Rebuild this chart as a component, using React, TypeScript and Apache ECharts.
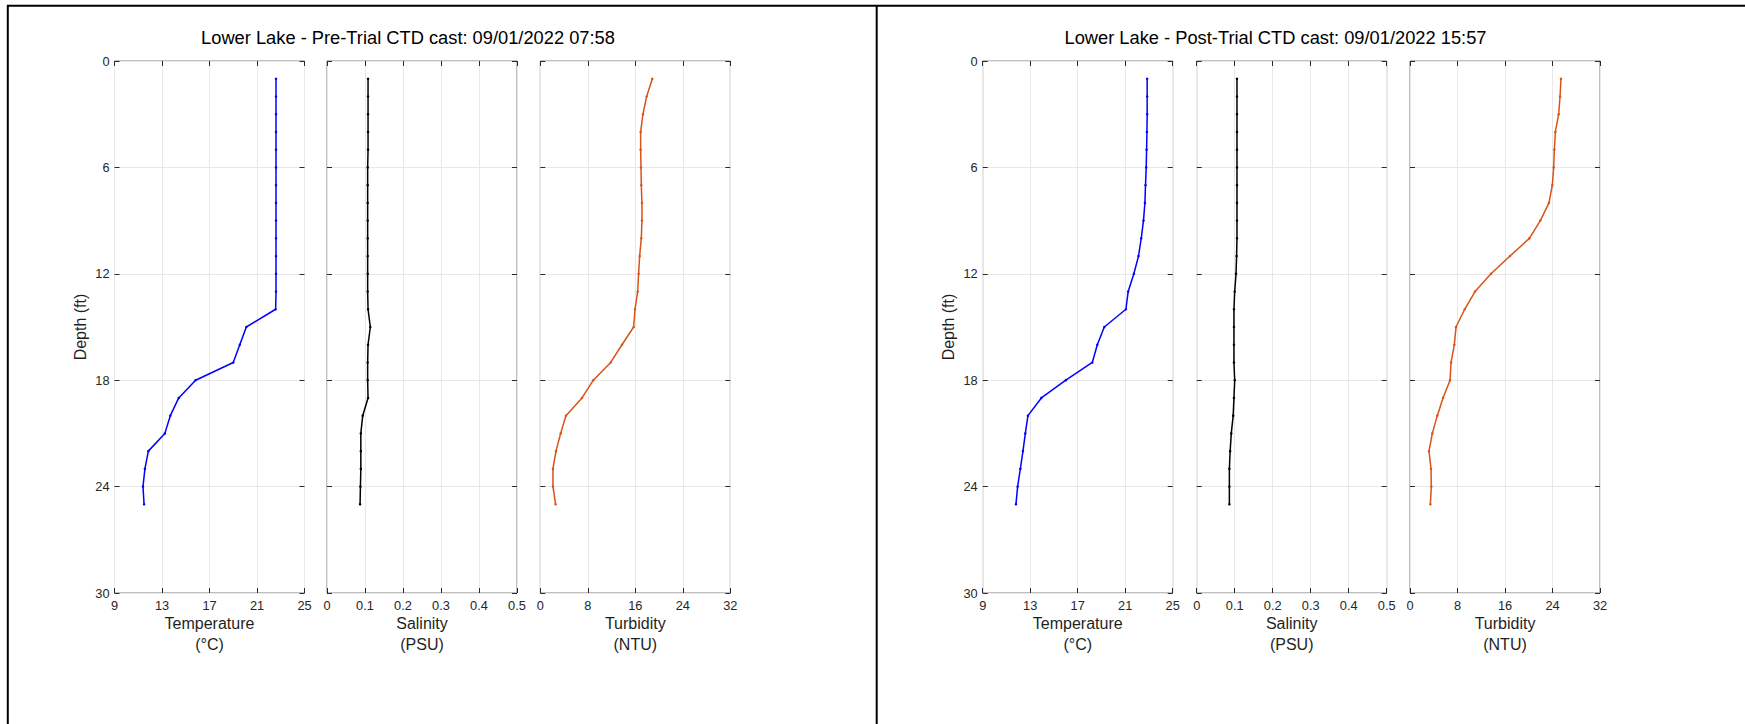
import React, { useEffect, useRef } from "react";
import * as echarts from "echarts";

const DEPTH = [1, 2, 3, 4, 5, 6, 7, 8, 9, 10, 11, 12, 13, 14, 15, 16, 17, 18, 19, 20, 21, 22, 23, 24, 25];

const PRE_TEMP = [22.6, 22.6, 22.6, 22.6, 22.6, 22.6, 22.6, 22.6, 22.6, 22.6, 22.6, 22.6, 22.6, 22.57, 20.1, 19.55, 19.0, 15.83, 14.41, 13.7, 13.24, 11.85, 11.56, 11.4, 11.49];
const PRE_SAL = [0.108, 0.108, 0.108, 0.108, 0.108, 0.107, 0.107, 0.107, 0.107, 0.107, 0.107, 0.107, 0.107, 0.108, 0.114, 0.108, 0.107, 0.107, 0.108, 0.094, 0.089, 0.089, 0.089, 0.088, 0.087];
const PRE_TURB = [18.87, 17.91, 17.29, 16.9, 16.9, 16.96, 17.01, 17.12, 17.12, 17.01, 16.73, 16.56, 16.4, 15.95, 15.72, 13.76, 11.85, 8.93, 7.02, 4.32, 3.43, 2.64, 2.13, 2.13, 2.58];

const POST_TEMP = [22.85, 22.85, 22.85, 22.83, 22.8, 22.77, 22.71, 22.66, 22.54, 22.35, 22.12, 21.73, 21.25, 21.06, 19.24, 18.65, 18.23, 16.0, 13.94, 12.81, 12.59, 12.39, 12.17, 11.94, 11.8];
const POST_SAL = [0.106, 0.106, 0.106, 0.106, 0.106, 0.106, 0.106, 0.106, 0.106, 0.106, 0.105, 0.1035, 0.1, 0.098, 0.098, 0.098, 0.098, 0.1, 0.098, 0.096, 0.091, 0.088, 0.086, 0.086, 0.086];
const POST_TURB = [25.43, 25.27, 25.04, 24.48, 24.31, 24.2, 23.97, 23.41, 21.95, 20.1, 16.84, 13.64, 10.95, 9.21, 7.75, 7.47, 6.91, 6.74, 5.56, 4.6, 3.76, 3.2, 3.54, 3.59, 3.43];

const TITLES = [
  "Lower Lake - Pre-Trial CTD cast: 09/01/2022 07:58",
  "Lower Lake - Post-Trial CTD cast: 09/01/2022 15:57",
];
const X_NAMES = ["Temperature\n(°C)", "Salinity\n(PSU)", "Turbidity\n(NTU)"];
const X_RANGES = [
  { min: 9, max: 25, interval: 4 },
  { min: 0, max: 0.5, interval: 0.1 },
  { min: 0, max: 32, interval: 8 },
];
const DEPTH_RANGE = { min: 0, max: 30, interval: 6 };
const Y_NAME = "Depth (ft)";
const COLORS = ["#0000ff", "#000000", "#d95319"];

const FONT = "'Liberation Sans', Arial, Helvetica, sans-serif";

export default function App() {
  const ref = useRef<HTMLDivElement>(null);

  useEffect(() => {
    if (!ref.current) return;
    const chart = echarts.init(ref.current, null, { renderer: "svg" });

    const panels = [
      { lefts: [114.5, 327, 540.3], data: [PRE_TEMP, PRE_SAL, PRE_TURB] },
      { lefts: [982.7, 1196.7, 1410], data: [POST_TEMP, POST_SAL, POST_TURB] },
    ];

    const grid: any[] = [];
    const xAxis: any[] = [];
    const yAxis: any[] = [];
    const series: any[] = [];
    const tickStyle = { inside: true, length: 5, lineStyle: { color: "#2a2a2a", width: 1 } };
    const labelStyle = { color: "#262626", fontSize: 12.8, fontFamily: FONT };
    const noLine = { show: false, onZero: false };

    panels.forEach((p) => {
      p.lefts.forEach((left, k) => {
        const gi = grid.length;
        grid.push({
          left,
          top: 61,
          width: 190,
          height: 532,
          show: true,
          borderColor: "#808080",
          borderWidth: 1,
          backgroundColor: "#ffffff",
        });
        const xr = X_RANGES[k];
        xAxis.push({
          type: "value",
          gridIndex: gi,
          position: "bottom",
          min: xr.min,
          max: xr.max,
          interval: xr.interval,
          axisLine: noLine,
          axisTick: tickStyle,
          axisLabel: { ...labelStyle, margin: 6 },
          splitLine: { show: true, lineStyle: { color: "#e8e8e8", width: 1 } },
          name: X_NAMES[k],
          nameLocation: "middle",
          nameGap: 20,
          nameMoveOverlap: false,
          nameTextStyle: { color: "#1f1f1f", fontSize: 16, fontFamily: FONT, lineHeight: 21 },
        });
        xAxis.push({
          type: "value",
          gridIndex: gi,
          position: "top",
          min: xr.min,
          max: xr.max,
          interval: xr.interval,
          axisLine: noLine,
          axisTick: tickStyle,
          axisLabel: { show: false },
          splitLine: { show: false },
        });
        yAxis.push({
          type: "value",
          gridIndex: gi,
          position: "left",
          inverse: true,
          min: DEPTH_RANGE.min,
          max: DEPTH_RANGE.max,
          interval: DEPTH_RANGE.interval,
          axisLine: noLine,
          axisTick: tickStyle,
          axisLabel: { ...labelStyle, show: k === 0, margin: 5 },
          splitLine: { show: true, lineStyle: { color: "#e8e8e8", width: 1 } },
          name: k === 0 ? Y_NAME : "",
          nameLocation: "middle",
          nameGap: 26,
          nameMoveOverlap: false,
          nameTextStyle: { color: "#1f1f1f", fontSize: 16, fontFamily: FONT },
        });
        yAxis.push({
          type: "value",
          gridIndex: gi,
          position: "right",
          inverse: true,
          min: DEPTH_RANGE.min,
          max: DEPTH_RANGE.max,
          interval: DEPTH_RANGE.interval,
          axisLine: noLine,
          axisTick: tickStyle,
          axisLabel: { show: false },
          splitLine: { show: false },
        });
        const vals = p.data[k];
        series.push({
          type: "line",
          xAxisIndex: gi * 2,
          yAxisIndex: gi * 2,
          data: DEPTH.map((d, i) => [vals[i], d]),
          symbol: "circle",
          symbolSize: 2.5,
          showSymbol: true,
          itemStyle: { color: COLORS[k] },
          lineStyle: { color: COLORS[k], width: 1.5 },
          silent: true,
        });
      });
    });

    const option: any = {
      animation: false,
      backgroundColor: "#ffffff",
      textStyle: { fontFamily: FONT },
      grid,
      xAxis,
      yAxis,
      series,
      graphic: [
        { type: "line", shape: { x1: 7, y1: 5.7, x2: 1745, y2: 5.7 }, style: { stroke: "#000", lineWidth: 2 } },
        { type: "line", shape: { x1: 7.8, y1: 5, x2: 7.8, y2: 724 }, style: { stroke: "#000", lineWidth: 2 } },
        { type: "line", shape: { x1: 876.7, y1: 5, x2: 876.7, y2: 724 }, style: { stroke: "#000", lineWidth: 2 } },
        {
          type: "text",
          x: 408,
          y: 37,
          style: { text: TITLES[0], fill: "#000", font: `18.3px ${FONT}`, align: "center", verticalAlign: "middle" },
        },
        {
          type: "text",
          x: 1275.5,
          y: 37,
          style: { text: TITLES[1], fill: "#000", font: `18.3px ${FONT}`, align: "center", verticalAlign: "middle" },
        },
      ],
    };

    chart.setOption(option);
    return () => chart.dispose();
  }, []);

  return (
    <div
      ref={ref}
      style={{ position: "absolute", left: 0, top: 0, width: 1745, height: 724, background: "#fff" }}
    />
  );
}
